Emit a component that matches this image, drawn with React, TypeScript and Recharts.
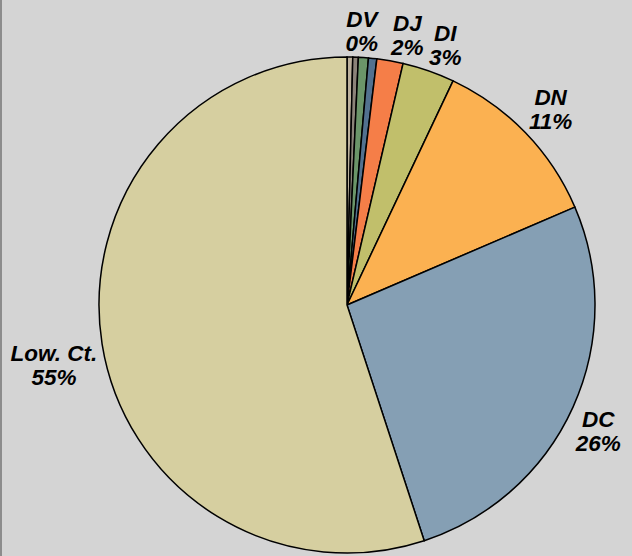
import React from 'react';
import { PieChart, Pie, Cell } from 'recharts';

// slices clockwise from 12 o'clock
const names = ['DX', 'DW', 'DV', 'DK', 'DJ', 'DI', 'DN', 'DC', 'Low. Ct.'];
const shares = [0.37, 0.36, 0.65, 0.54, 1.71, 3.4, 11.5, 26.4, 55.0];
const colors = ['#bcb19c', '#8b8379', '#6b9569', '#52718f', '#f57e48', '#c1bf6b', '#fbb151', '#859fb4', '#d6cfa0'];
const labelled = ['DV', 'DJ', 'DI', 'DN', 'DC', 'Low. Ct.'];
const pctText = ['0%', '0%', '0%', '1%', '2%', '3%', '11%', '26%', '55%'];

const data = names.map((name, i) => ({ name, value: shares[i], pct: pctText[i] }));

// label nudges (degrees, negative = clockwise) so crowded labels don't collide
const labelShift: Record<string, number> = { DV: 0.7, DJ: -2.6, DI: -1.5, DC: -2.4, 'Low. Ct.': 2.5 };

const RAD = Math.PI / 180;
const FONT = 22.5;

// rough bold-sans advance widths in em
const textWidth = (s: string) =>
  s.split('').reduce((w, ch) => {
    if (ch === '.' || ch === ' ' || ch === 'I') return w + 0.28;
    if (ch === 't') return w + 0.33;
    if (ch === '%') return w + 0.89;
    if (/[0-9]/.test(ch)) return w + 0.56;
    if (ch === 'w') return w + 0.78;
    if (/[A-Z]/.test(ch)) return w + 0.7;
    return w + 0.61;
  }, 0) * FONT;

const renderLabel = (props: any) => {
  const { cx, cy, midAngle, outerRadius, index } = props;
  const name = names[index];
  if (!labelled.includes(name)) return null;
  const pct = pctText[index];
  const ang = midAngle + (labelShift[name] || 0);
  const halfW = Math.max(textWidth(name), textWidth(pct)) / 2;
  const halfH = FONT * 1.0;
  const dx = Math.cos(-ang * RAD);
  const dy = Math.sin(-ang * RAD);
  const r = outerRadius + 3 + halfW * Math.abs(dx) + halfH * Math.abs(dy);
  const x = cx + r * dx;
  const y = cy + r * dy;
  return (
    <text
      x={x}
      y={y}
      textAnchor="middle"
      fontFamily="'Liberation Sans', Arial, sans-serif"
      fontSize={FONT}
      fontWeight="bold"
      fontStyle="italic"
      fill="#000"
    >
      <tspan x={x} dy={-4}>{name}</tspan>
      <tspan x={x} dy={24}>{pct}</tspan>
    </text>
  );
};

export default function App() {
  return (
    <div style={{ position: 'absolute', left: 0, top: 0, width: 632, height: 556, background: '#d4d4d4', boxSizing: 'border-box', borderLeft: '2px solid #8c8c8c' }}>
      <PieChart width={630} height={556} margin={{ top: 0, right: 0, bottom: 0, left: 0 }}>
        <Pie
          data={data}
          dataKey="value"
          nameKey="name"
          cx={345}
          cy={305}
          outerRadius={248}
          startAngle={90}
          endAngle={-270}
          stroke="#000"
          strokeWidth={1.5}
          label={renderLabel}
          labelLine={false}
          isAnimationActive={false}
        >
          {data.map((d, i) => (
            <Cell key={d.name} fill={colors[i]} />
          ))}
        </Pie>
      </PieChart>
    </div>
  );
}
